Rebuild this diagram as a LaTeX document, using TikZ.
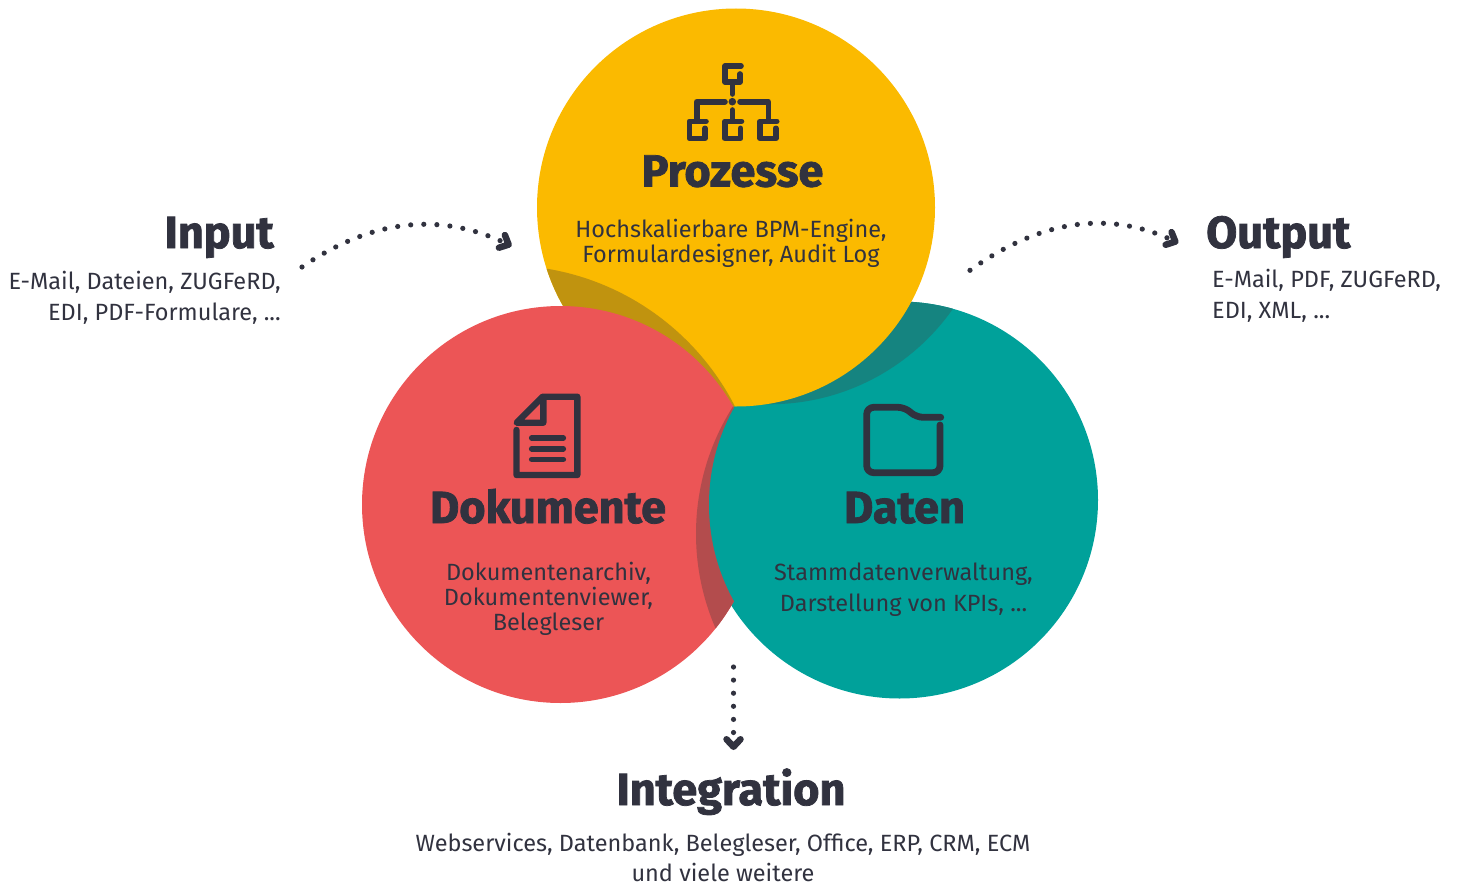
\documentclass[tikz,border=0pt]{standalone}
\usepackage{fontspec}
\setmainfont{Fira Sans}
\newfontfamily\headfont[BoldFeatures={FakeBold=1.7}]{Fira Sans}
\usepackage{tikz}
\usetikzlibrary{arrows.meta}
\definecolor{inkdark}{HTML}{31323F}
\definecolor{prozyellow}{HTML}{FBBA00}
\definecolor{prozshade}{HTML}{C0930F}
\definecolor{dokred}{HTML}{EC5556}
\definecolor{dokshade}{HTML}{B34C4D}
\definecolor{datteal}{HTML}{00A19A}
\definecolor{datshade}{HTML}{158480}
\tikzset{
	headline/.style={inner sep=0pt, text=inkdark, font=\headfont\bfseries\fontsize{45}{45}\selectfont},
	bodytext/.style={inner sep=0pt, text=inkdark, align=center, font=\fontsize{23.5}{25}\selectfont},
	bodywide/.style={bodytext, font=\fontsize{23.5}{31}\selectfont},
	icon/.style={draw=inkdark, line width=5.6pt, line cap=round, line join=round},
	dotflow/.style={draw=inkdark, line width=5.2pt, line cap=round, dash pattern=on 0pt off 13.1pt,
		-{Straight Barb[length=7.5pt, width=14pt, line width=6.5pt, round=false]}}
}
\begin{document}
\begin{tikzpicture}[x=1pt, y=-1pt]
	\useasboundingbox (0,0) rectangle (1464,883);

	\fill[datteal] (899.5,500) circle (198.5);
	\begin{scope}
		\clip (899.5,500) circle (198.5);
		\fill[datshade] (769.2,179.9) circle (224.4);
	\end{scope}
	\fill[prozyellow] (736,207.5) circle (199);
	\begin{scope}
		\clip (736,207.5) circle (199);
		\fill[prozshade] (504.2,524.2) circle (259);
	\end{scope}
	\fill[dokred] (560.5,504.5) circle (198.5);
	\begin{scope}
		\clip (560.5,504.5) circle (198.5);
		\fill[dokshade] (933.5,533.8) circle (237.5);
	\end{scope}
	\begin{scope}
		\clip (690,407) rectangle (800,640);
		\clip (899.5,500) circle (198.5);
		\fill[datteal] (908,504.5) circle (199);
	\end{scope}

	\draw[icon] (741,66) -- (725,66) -- (725,82) -- (740,82) -- (740,74);
	\draw[icon] (732.3,82) -- (732.3,94);
	\fill[inkdark] (732.3,101.7) circle (3.8);
	\draw[icon] (725,101.7) -- (696.7,101.7) -- (696.7,120);
	\draw[icon] (740,101.7) -- (768.3,101.7) -- (768.3,120);
	\draw[icon] (732.3,110) -- (732.3,120);
	\draw[icon] (706,121.3) -- (689.3,121.3) -- (689.3,138.3) -- (705,138.3) -- (705,128.3);
	\draw[icon] (741.5,121.3) -- (724.8,121.3) -- (724.8,138.3) -- (740.5,138.3) -- (740.5,128.3);
	\draw[icon] (776.7,121.3) -- (760,121.3) -- (760,138.3) -- (775.7,138.3) -- (775.7,128.3);

	\draw[icon, line width=6.4pt] (516.5,430) -- (516.5,475) -- (577.3,475) -- (577.3,396.7) -- (542.7,396.7) -- (516.7,422.7) -- (543.3,422.7) -- (543.3,398);
	\draw[icon] (531.7,438) -- (563.3,438);
	\draw[icon] (531.7,448.7) -- (563.3,448.7);
	\draw[icon] (531.7,459.3) -- (563.3,459.3);

	\draw[icon, line width=6.8pt, rounded corners=7pt] (940.7,417.3) -- (916,417.3) -- (905,407.3) -- (866.7,407.3) -- (866.7,472.7) -- (940,472.7) -- (940,425);

	\node[headline, anchor=base] (prozesse) at (732.5,186.5) {Prozesse};
	\node[bodytext] (prozessetext) at (731,243.5) {Hochskalierbare BPM-Engine,\\Formulardesigner, Audit Log};
	\node[headline, anchor=base] (dokumente) at (548,523) {Dokumente};
	\node[bodytext] (dokumentetext) at (548.5,598.5) {Dokumentenarchiv,\\Dokumentenviewer,\\Belegleser};
	\node[headline, anchor=base] (daten) at (904.5,523) {Daten};
	\node[bodywide] (datentext) at (903.5,589.5) {Stammdatenverwaltung,\\Darstellung von KPIs, ...};
	\node[headline, anchor=base east] (input) at (274,248) {Input};
	\node[bodywide, align=right, anchor=east] (inputtext) at (281,298) {E-Mail, Dateien, ZUGFeRD,\\EDI, PDF-Formulare, ...};
	\node[headline, anchor=base west] (output) at (1206,248) {Output};
	\node[bodywide, align=left, anchor=west] (outputtext) at (1212,295.5) {E-Mail, PDF, ZUGFeRD,\\EDI, XML, ...};
	\node[headline, anchor=base] (integration) at (731,805) {Integration};
	\node[bodytext, font=\fontsize{23.5}{30}\selectfont] (integrationtext) at (723,857) {Webservices, Datenbank, Belegleser, Office, ERP, CRM, ECM\\und viele weitere};

	\coordinate (inputstart) at (302,267);
	\coordinate (inputend) at (511.6,246);
	\coordinate (outputstart) at (970,270.3);
	\coordinate (outputend) at (1178.3,243);
	\coordinate (integrationstart) at (733.5,667);
	\coordinate (integrationend) at (733.5,750);

	\draw[dotflow] (inputstart) .. controls (372,219) and (440,212) .. (inputend);
	\draw[dotflow] (outputstart) .. controls (1040,220) and (1108,210) .. (outputend);
	\draw[dotflow] (integrationstart) -- (integrationend);
\end{tikzpicture}
\end{document}
